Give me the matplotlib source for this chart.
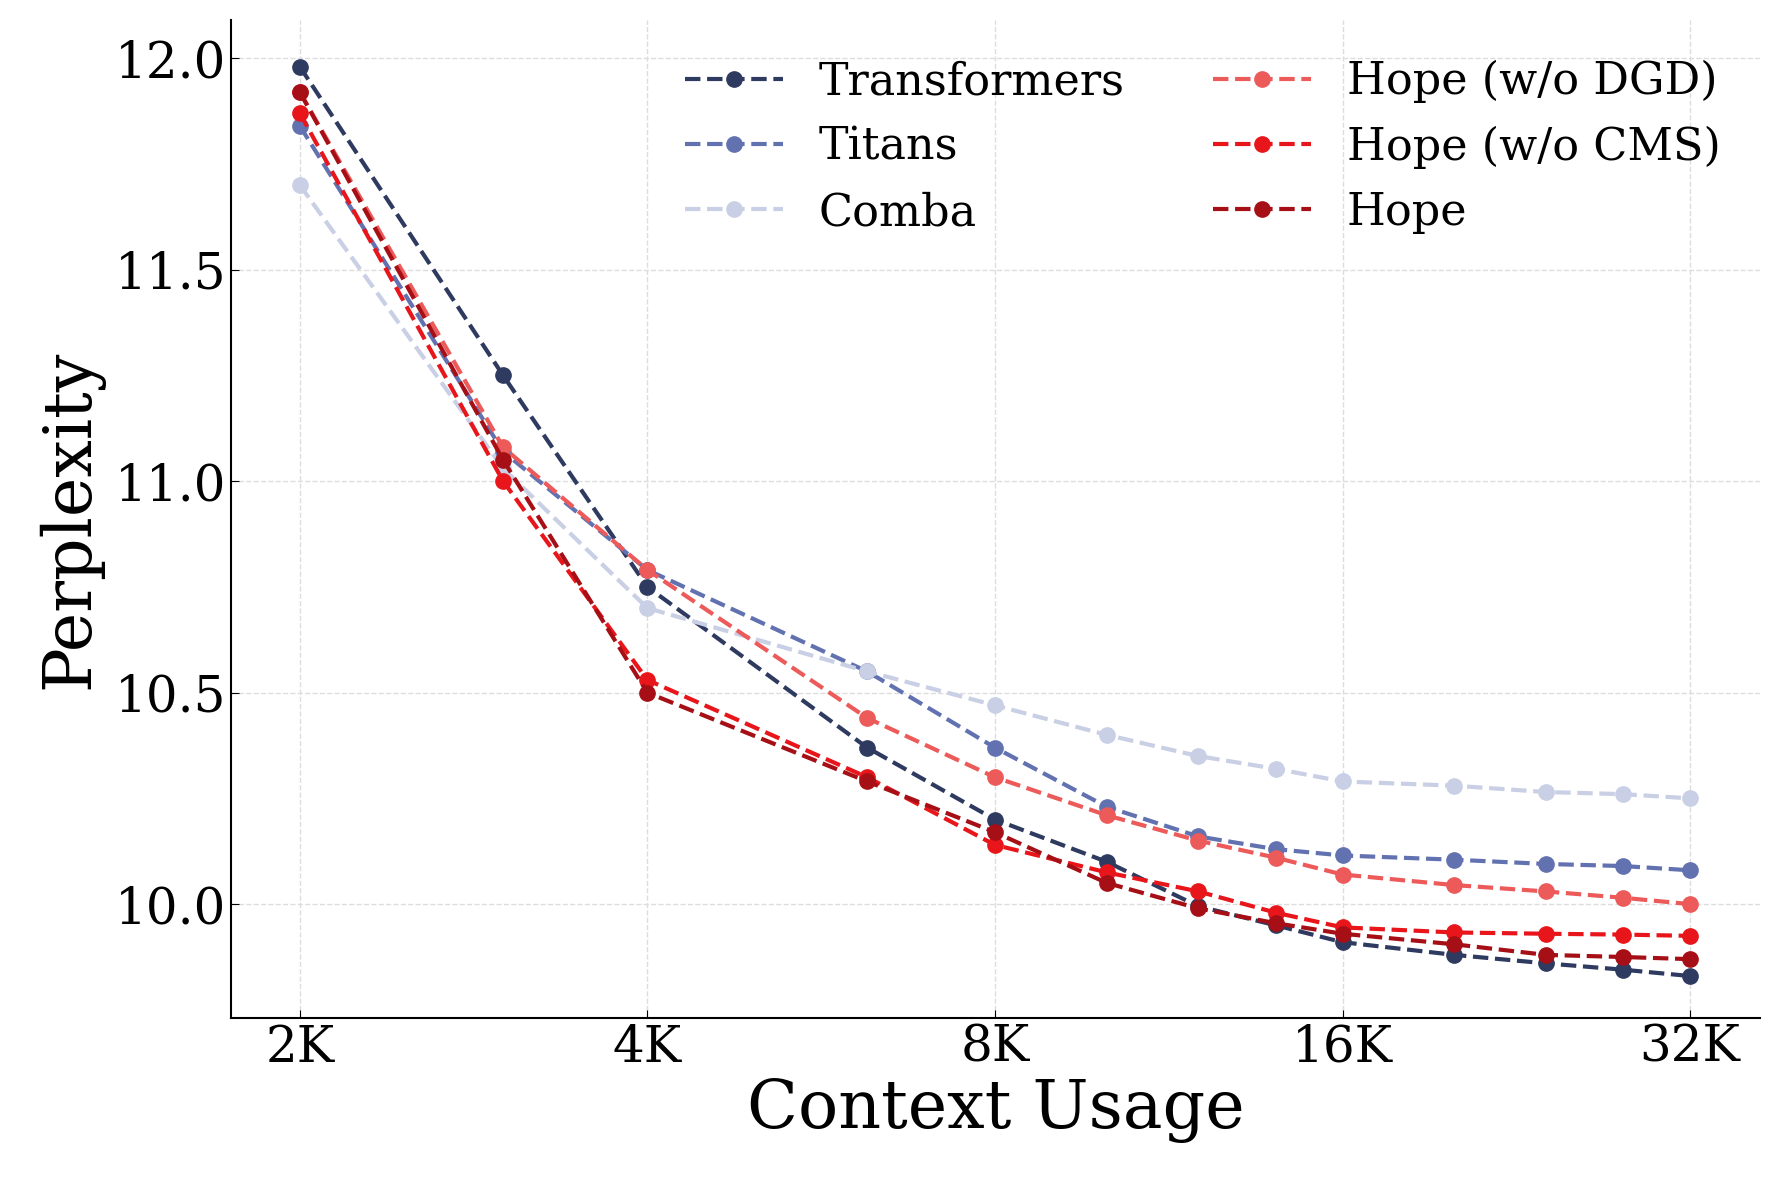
import matplotlib
matplotlib.use("Agg")
import matplotlib.pyplot as plt
from matplotlib.ticker import FixedLocator, FixedFormatter, NullFormatter

plt.rcParams['font.family'] = 'DejaVu Serif'

ctx = [2048, 3072, 4096, 6350, 8192, 10240, 12288, 14336, 16384, 20480, 24576, 28672, 32768]

transformers = [11.98, 11.25, 10.75, 10.37, 10.20, 10.10, 9.995, 9.95, 9.91, 9.88, 9.86, 9.845, 9.83]
titans = [11.84, 11.07, 10.79, 10.55, 10.37, 10.23, 10.16, 10.13, 10.115, 10.105, 10.095, 10.09, 10.08]
comba = [11.70, 11.03, 10.70, 10.55, 10.47, 10.40, 10.35, 10.32, 10.29, 10.28, 10.265, 10.26, 10.25]
hope_dgd = [11.92, 11.08, 10.79, 10.44, 10.30, 10.21, 10.15, 10.11, 10.07, 10.045, 10.03, 10.015, 10.0]
hope_cms = [11.87, 11.00, 10.53, 10.30, 10.14, 10.075, 10.03, 9.98, 9.945, 9.933, 9.93, 9.928, 9.925]
hope = [11.92, 11.05, 10.50, 10.29, 10.17, 10.05, 9.99, 9.955, 9.93, 9.905, 9.88, 9.875, 9.87]

series = [
    ('Transformers', transformers, '#2e3a5f'),
    ('Titans', titans, '#6272b0'),
    ('Comba', comba, '#c9cfe4'),
    ('Hope (w/o DGD)', hope_dgd, '#ec5a5a'),
    ('Hope (w/o CMS)', hope_cms, '#e8161b'),
    ('Hope', hope, '#a50f15'),
]

fig = plt.figure(figsize=(17.8, 11.8), dpi=100)
ax = fig.add_axes([0.130, 0.137, 0.859, 0.846])

for name, vals, col in series:
    ax.plot(ctx, vals, '--o', color=col, label=name, lw=3, ms=11)

ax.set_xscale('log', base=2)
ax.xaxis.set_major_locator(FixedLocator([2048, 4096, 8192, 16384, 32768]))
ax.xaxis.set_major_formatter(FixedFormatter(['2K', '4K', '8K', '16K', '32K']))
ax.xaxis.set_minor_formatter(NullFormatter())
ax.set_xlim(1787, 37700)
ax.set_ylim(9.73, 12.09)
ax.set_yticks([10.0, 10.5, 11.0, 11.5, 12.0])
ax.tick_params(axis='both', which='major', direction='in', labelsize=36, length=6)
ax.tick_params(axis='both', which='minor', direction='in', length=3)
ax.grid(True, which='major', ls='--', color='#dddddd', lw=1)
for s in ['top', 'right']:
    ax.spines[s].set_visible(False)
ax.spines['left'].set_linewidth(1.5)
ax.spines['bottom'].set_linewidth(1.5)

ax.set_xlabel('Context Usage', fontsize=48, labelpad=4)
ax.set_ylabel('Perplexity', fontsize=48, labelpad=8)
ax.legend(ncol=2, fontsize=32, frameon=False, loc='upper right',
          bbox_to_anchor=(1.0, 1.0), handlelength=2.2, columnspacing=2.0,
          labelspacing=0.5)

fig.savefig('out.png', dpi=100)
